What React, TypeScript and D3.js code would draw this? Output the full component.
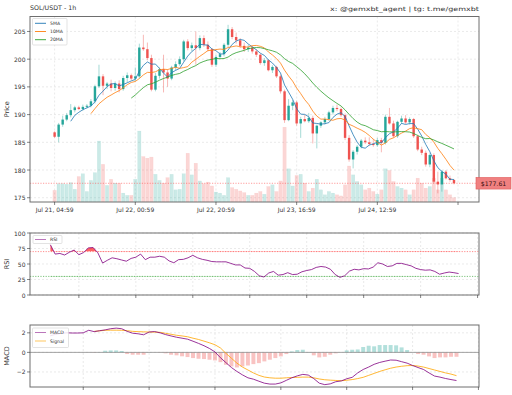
import React from "react";
import * as d3 from "d3";

const W = 512;
const H = 395;
const FONT = "DejaVu Sans";

// ---------- main price panel data ----------
const xTickIdx = [0, 20, 40, 60, 80, 100];
const xTickLabels = ["Jul 21, 04:59", "Jul 22, 00:59", "Jul 22, 20:59", "Jul 23, 16:59", "Jul 24, 12:59", ""];
const priceTicks = [175, 180, 185, 190, 195, 200, 205];
const lastPrice = 177.61;

const opens = [186.8, 186.0, 188.2, 189.1, 189.9, 190.8, 191.3, 191.0, 191.4, 191.6,
  192.4, 195.1, 196.9, 195.2, 195.6, 194.8, 195.6, 194.6, 196.6, 197.1,
  196.5, 196.9, 202.1, 201.8, 200.2, 194.5, 197.0, 198.2, 197.6, 196.5,
  198.5, 199.1, 200.0, 203.2, 202.0, 202.5, 202.0, 203.8, 202.6, 201.8,
  199.0, 200.4, 200.9, 202.6, 205.4, 204.0, 203.4, 202.4, 201.8, 202.1,
  201.4, 200.8, 199.3, 199.8, 198.0, 198.6, 196.9, 194.2, 189.0, 191.6,
  192.2, 188.4, 189.2, 188.8, 189.4, 186.6, 188.0, 188.6, 189.2, 190.4,
  191.2, 191.0, 189.9, 185.8, 181.9, 183.3, 184.2, 185.3, 185.0, 184.7,
  184.5, 185.4, 184.9, 189.6, 188.4, 186.1, 188.7, 189.3, 188.6, 189.2,
  186.1, 183.7, 183.1, 181.0, 182.7, 177.9, 177.4, 179.7, 178.5, 178.2];
const highs = [187.0, 188.5, 189.8, 190.3, 191.9, 191.6, 191.6, 191.8, 191.9, 192.8,
  195.4, 199.0, 197.3, 195.9, 196.3, 196.0, 196.2, 197.0, 197.6, 197.4,
  198.5, 202.8, 204.4, 203.0, 200.8, 197.5, 198.5, 200.8, 198.2, 198.8,
  199.6, 200.5, 203.5, 203.6, 203.0, 205.0, 204.3, 204.3, 203.2, 202.0,
  200.8, 201.3, 202.9, 206.2, 205.8, 204.8, 203.8, 203.0, 202.6, 202.4,
  201.8, 201.0, 200.2, 200.0, 198.9, 198.8, 197.2, 194.5, 192.8, 192.6,
  192.5, 189.6, 190.0, 190.3, 189.8, 188.2, 188.8, 189.6, 190.7, 191.6,
  191.8, 191.3, 190.2, 186.3, 183.6, 184.5, 185.6, 185.9, 185.9, 185.6,
  185.8, 185.8, 190.0, 191.2, 188.9, 188.9, 189.8, 189.9, 189.5, 189.4,
  186.4, 184.2, 183.5, 183.0, 183.0, 179.7, 180.0, 180.0, 179.0, 178.4];
const lows = [185.8, 185.0, 187.8, 188.8, 189.5, 190.4, 190.8, 190.7, 191.1, 191.3,
  192.0, 194.8, 193.5, 194.6, 194.2, 194.3, 194.0, 194.3, 195.8, 196.2,
  196.0, 196.5, 201.5, 199.8, 194.2, 194.2, 196.5, 194.0, 195.0, 196.2,
  198.0, 198.8, 199.6, 201.6, 201.4, 199.0, 201.6, 202.2, 201.4, 198.6,
  198.6, 200.0, 200.5, 202.2, 203.6, 202.8, 202.0, 201.3, 201.3, 201.0,
  200.4, 199.0, 198.8, 197.8, 197.5, 196.6, 193.8, 188.5, 188.8, 190.8,
  188.0, 185.8, 188.6, 188.5, 184.8, 183.9, 187.6, 188.2, 188.9, 190.0,
  190.6, 189.6, 185.4, 181.5, 180.3, 182.8, 183.9, 184.7, 184.4, 184.2,
  184.2, 183.2, 184.6, 188.2, 185.8, 185.8, 188.3, 188.3, 188.2, 185.8,
  183.4, 182.7, 180.6, 180.5, 177.6, 175.8, 176.1, 178.3, 177.9, 177.4];
const closes = [186.0, 188.2, 189.1, 189.9, 190.8, 191.3, 191.0, 191.4, 191.6, 192.4,
  195.1, 196.9, 195.2, 195.6, 194.8, 195.6, 194.6, 196.6, 197.1, 196.5,
  196.9, 202.1, 201.8, 200.2, 194.5, 197.0, 198.2, 197.6, 196.5, 198.5,
  199.1, 200.0, 203.2, 202.0, 202.5, 202.0, 203.8, 202.6, 201.8, 199.0,
  200.4, 200.9, 202.6, 205.4, 204.0, 203.4, 202.4, 201.8, 202.1, 201.4,
  200.8, 199.3, 199.8, 198.0, 198.6, 196.9, 194.2, 189.0, 191.6, 192.2,
  188.4, 189.2, 188.8, 189.4, 186.6, 188.0, 188.6, 189.2, 190.4, 191.2,
  191.0, 189.9, 185.8, 181.9, 183.3, 184.2, 185.3, 185.0, 184.7, 184.5,
  185.4, 184.9, 189.6, 188.4, 186.1, 188.7, 189.3, 188.6, 189.2, 186.1,
  183.7, 183.1, 181.0, 182.7, 177.9, 177.4, 179.7, 178.5, 178.2, 177.61];
const volumes = [21, 33, 33, 32, 35, 23, 46, 51, 19, 39,
  53, 110, 68, 30, 41, 34, 34, 16, 12, 12,
  41, 128, 82, 79, 81, 50, 39, 34, 44, 50,
  22, 23, 51, 88, 49, 70, 38, 33, 36, 29,
  18, 16, 12, 44, 26, 23, 20, 17, 12, 12,
  16, 19, 14, 28, 31, 19, 38, 135, 60, 29,
  48, 50, 34, 19, 25, 41, 22, 13, 19, 16,
  13, 11, 31, 65, 49, 37, 31, 22, 25, 19,
  14, 22, 60, 57, 37, 28, 25, 22, 13, 22,
  43, 34, 25, 28, 43, 22, 43, 22, 13, 8];

const maNames = ["5MA", "10MA", "20MA"];
const maPeriods = [5, 10, 20];
const maColors = ["#1f77b4", "#ff7f0e", "#2ca02c"];

// ---------- RSI panel ----------
const rsiStart = 13;
const rsiValues = [81, 66, 67, 64.5, 69, 72.5, 65, 68.5, 76, 76.5,
  68, 51.5, 56, 60, 58.5, 56.5, 54.5, 59, 61, 66,
  57, 61, 61, 62.5, 61, 55, 52, 57, 57.5, 60,
  64, 60, 57.5, 56, 54, 53.5, 53.5, 53.5, 51, 48.5,
  48.5, 43.5, 43, 38, 31, 29, 35.5, 38, 32, 33,
  36, 33, 33.5, 37.5, 39.5, 41, 44.5, 46, 45, 41.5,
  33, 28.5, 31, 38.5, 41.5, 40.5, 42.5, 42, 45, 52,
  50, 46, 47, 51, 51, 49, 47, 43, 41, 40,
  40.5, 38, 33.5, 35.5, 37, 36, 34.6];
const rsiTicks = [0, 25, 50, 75, 100];
const rsiTickIdx = [19, 31, 43, 55, 67, 79, 91, 103];

// ---------- MACD panel ----------
const macdStart = 25;
const macdValues = [1.7, 1.85, 1.95, 2.0, 1.98, 1.98, 2.0, 2.26, 2.12, 2.22,
  2.3, 2.42, 2.48, 2.42, 2.15, 1.96, 1.9, 1.8, 2.08, 2.13,
  2.0, 1.82, 1.68, 1.55, 1.45, 1.35, 1.14, 0.92, 0.68, 0.4,
  0.05, -0.55, -1.05, -1.55, -1.95, -2.3, -2.6, -2.74, -2.95, -3.15,
  -3.24, -3.24, -3.12, -2.86, -2.6, -2.4, -2.25, -2.32, -2.68, -3.15,
  -3.3, -3.22, -3.0, -2.92, -2.7, -2.55, -2.1, -1.75, -1.5, -1.22,
  -1.03, -0.9, -0.78, -0.8, -0.95, -1.1, -1.34, -1.55, -1.75, -2.1,
  -2.42, -2.53, -2.67, -2.78, -2.88];
const signalStart = 33;
const signalValues = [2.15, 2.2, 2.26, 2.27, 2.27, 2.26, 2.22, 2.15, 2.12, 2.1,
  2.08, 2.07, 2.05, 1.95, 1.85, 1.75, 1.68, 1.6, 1.45, 1.32,
  1.15, 0.98, 0.78, 0.45, -0.1, -0.6, -1.1, -1.5, -1.8, -2.1,
  -2.35, -2.52, -2.6, -2.64, -2.64, -2.6, -2.57, -2.55, -2.53, -2.53,
  -2.6, -2.72, -2.8, -2.84, -2.87, -2.9, -2.85, -2.78, -2.68, -2.55,
  -2.35, -2.15, -1.95, -1.78, -1.62, -1.5, -1.42, -1.36, -1.34, -1.4,
  -1.5, -1.65, -1.8, -1.95, -2.1, -2.22, -2.38];
const histValues = [0, 0, 0, 0, 0, 0, 0, 0, -0.03, 0.02,
  0.17, 0.2, 0.2, 0.14, -0.17, -0.24, -0.24, -0.24, 0.02, 0.0,
  -0.02, -0.1, -0.24, -0.3, -0.4, -0.48, -0.58, -0.65, -0.68, -0.75,
  -0.82, -1.0, -1.27, -1.44, -1.54, -1.44, -1.34, -1.2, -1.1, -0.92,
  -0.75, -0.58, -0.41, -0.17, 0.1, 0.24, 0.27, 0.03, -0.3, -0.51,
  -0.45, -0.24, -0.1, 0, 0.2, 0.27, 0.3, 0.55, 0.68, 0.62,
  0.75, 0.75, 0.75, 0.72, 0.51, 0.24, 0, -0.17, -0.24, -0.41,
  -0.58, -0.51, -0.51, -0.45, -0.45];
const macdTicks = [-2, 0, 2];
const macdTickIdx = [31, 43, 55, 67, 79, 91, 103];

const UP = "#26a69a";
const DOWN = "#ef5350";
const GRID = "#dcdcdc";
const FRAME = "#6e6e6e";
const TXT = "#333";

function sma(vals: number[], n: number): (number | null)[] {
  return vals.map((_, i) => (i < n - 1 ? null : (d3.mean(vals.slice(i - n + 1, i + 1)) as number)));
}

const L = 30;
const R = 479;

function Frame({ top, bottom }: { top: number; bottom: number }) {
  return <rect x={L} y={top} width={R - L} height={bottom - top} fill="none" stroke={FRAME} strokeWidth={1} />;
}

export default function App() {
  // main panel
  const mTop = 16.5, mBot = 202;
  const x = d3.scaleLinear().domain([-6.1, 105.2]).range([L, R]);
  const y = d3.scaleLinear().domain([174.23, 207.7]).range([mBot, mTop]);
  const yv = d3.scaleLinear().domain([0, 334.7]).range([mBot, mTop]);
  const step = x(1) - x(0);
  const idx = d3.range(closes.length);

  const mas = maPeriods.map((p) => sma(closes, p));
  const maLine = d3
    .line<number | null>()
    .defined((d) => d !== null)
    .x((_, i) => x(i))
    .y((d) => y(d as number));

  // RSI panel
  const rTop = 233, rBot = 295;
  const xr = d3.scaleLinear().domain([8.7, 103.3]).range([L, R]);
  const yr = d3.scaleLinear().domain([0, 100]).range([rBot, rTop]);
  const rsiLine = d3
    .line<number>()
    .x((_, i) => xr(rsiStart + i))
    .y((d) => yr(d));
  const rsiArea = d3
    .area<number>()
    .x((_, i) => xr(rsiStart + i))
    .y0(yr(70))
    .y1((d) => yr(d));
  const rsiArea30 = d3
    .area<number>()
    .x((_, i) => xr(rsiStart + i))
    .y0(yr(30))
    .y1((d) => yr(d));

  // MACD panel
  const cTop = 325, cBot = 387;
  const xm = d3.scaleLinear().domain([21.3, 103.1]).range([L, R]);
  const ym = d3.scaleLinear().domain([-3.54, 2.8]).range([cBot, cTop]);
  const mStep = xm(1) - xm(0);
  const macdPath = d3
    .line<number>()
    .x((_, i) => xm(macdStart + i))
    .y((d) => ym(d));
  const sigPath = d3
    .line<number>()
    .x((_, i) => xm(signalStart + i))
    .y((d) => ym(d));

  return (
    <svg width={W} height={H} style={{ display: "block", position: "absolute", left: 0, top: 0, background: "#fff" }} fontFamily={FONT}>
      <defs>
        <clipPath id="mainClip"><rect x={L} y={mTop} width={R - L} height={mBot - mTop} /></clipPath>
        <clipPath id="above70"><rect x={L} y={rTop} width={R - L} height={yr(70) - rTop} /></clipPath>
        <clipPath id="below30"><rect x={L} y={yr(30)} width={R - L} height={rBot - yr(30)} /></clipPath>
      </defs>
      <rect x={0} y={0} width={W} height={H} fill="#fff" />

      {/* header */}
      <text x={30} y={10} fontSize={6.3} fill={TXT}>SOL/USDT - 1h</text>
      <text x={479} y={10.5} fontSize={5.9} fill={TXT} textAnchor="end" textLength={149} lengthAdjust="spacingAndGlyphs">x: @gemxbt_agent | tg: t.me/gemxbt</text>

      {/* ===== main panel ===== */}
      <g>
        {priceTicks.map((t) => (
          <line key={"gy" + t} x1={L} x2={R} y1={y(t)} y2={y(t)} stroke={GRID} strokeWidth={0.6} strokeDasharray="2,2" />
        ))}
        {xTickIdx.map((t) => (
          <line key={"gx" + t} x1={x(t)} x2={x(t)} y1={mTop} y2={mBot} stroke={GRID} strokeWidth={0.6} strokeDasharray="2,2" />
        ))}
        <g clipPath="url(#mainClip)">
          {/* volume */}
          {idx.map((i) => {
            const up = closes[i] >= opens[i];
            return (
              <rect key={"v" + i} x={x(i) - step * 0.42} width={step * 0.84} y={yv(volumes[i])} height={yv(0) - yv(volumes[i])}
                fill={up ? UP : DOWN} fillOpacity={0.24} stroke={up ? UP : DOWN} strokeOpacity={0.12} strokeWidth={0.4} />
            );
          })}
          {/* last price line */}
          <line x1={L} x2={R} y1={y(lastPrice)} y2={y(lastPrice)} stroke="#ff4d4d" strokeOpacity={0.8} strokeWidth={0.7} strokeDasharray="1.2,1.4" />
          {/* candles */}
          {idx.map((i) => {
            const up = closes[i] >= opens[i];
            const c = up ? UP : DOWN;
            const top = y(Math.max(opens[i], closes[i]));
            const bot = y(Math.min(opens[i], closes[i]));
            return (
              <g key={"c" + i}>
                <line x1={x(i)} x2={x(i)} y1={y(highs[i])} y2={y(lows[i])} stroke={c} strokeWidth={0.7} strokeOpacity={0.6} />
                <rect x={x(i) - step * 0.3} width={step * 0.6} y={top} height={Math.max(bot - top, 0.6)} fill={c} />
              </g>
            );
          })}
          {/* moving averages */}
          {mas.map((m, k) => (
            <path key={"ma" + k} d={maLine(m) || ""} fill="none" stroke={maColors[k]} strokeWidth={0.8} />
          ))}
        </g>
        <Frame top={mTop} bottom={mBot} />
        {priceTicks.map((t) => (
          <g key={"ty" + t}>
            <line x1={L - 3} x2={L} y1={y(t)} y2={y(t)} stroke={TXT} strokeWidth={0.6} />
            <text x={L - 4.5} y={y(t)} fontSize={6} fill={TXT} textAnchor="end" dominantBaseline="central">{t}</text>
          </g>
        ))}
        {xTickIdx.map((t, k) => (
          <g key={"tx" + t}>
            <line x1={x(t)} x2={x(t)} y1={mBot} y2={mBot + 3} stroke={TXT} strokeWidth={0.6} />
            <text x={x(t)} y={mBot + 10} fontSize={6} fill={TXT} textAnchor="middle">{xTickLabels[k]}</text>
          </g>
        ))}
        <text transform={`translate(9,${(mTop + mBot) / 2}) rotate(-90)`} fontSize={6.5} fill={TXT} textAnchor="middle">Price</text>
        {/* legend */}
        <rect x={32.5} y={18.5} width={34.5} height={26.5} fill="#fff" fillOpacity={0.85} stroke="#d0d0d0" strokeWidth={0.6} rx={1} />
        {maNames.map((n, k) => (
          <g key={"lg" + n}>
            <line x1={35} x2={46} y1={23.3 + k * 8.2} y2={23.3 + k * 8.2} stroke={maColors[k]} strokeWidth={0.9} />
            <text x={50} y={23.3 + k * 8.2} fontSize={4.6} fill={TXT} dominantBaseline="central">{n}</text>
          </g>
        ))}
        {/* price tag */}
        <rect x={476} y={y(lastPrice) - 5.8} width={35} height={11.6} fill="#f08080" stroke="#e05a5a" strokeWidth={0.6} />
        <text x={493.5} y={y(lastPrice)} fontSize={6.2} fill="#3a1010" textAnchor="middle" dominantBaseline="central">${lastPrice.toFixed(2)}</text>
      </g>

      {/* ===== RSI panel ===== */}
      <g>
        {rsiTicks.map((t) => (
          <line key={"rg" + t} x1={L} x2={R} y1={yr(t)} y2={yr(t)} stroke={GRID} strokeWidth={0.6} strokeDasharray="2,2" />
        ))}
        {rsiTickIdx.map((t) => (
          <line key={"rgx" + t} x1={xr(t)} x2={xr(t)} y1={rTop} y2={rBot} stroke={GRID} strokeWidth={0.6} strokeDasharray="2,2" />
        ))}
        <line x1={L} x2={R} y1={yr(70)} y2={yr(70)} stroke="#ff3030" strokeOpacity={0.8} strokeWidth={0.7} strokeDasharray="1.2,1.4" />
        <line x1={L} x2={R} y1={yr(30)} y2={yr(30)} stroke="#2ca02c" strokeOpacity={0.9} strokeWidth={0.7} strokeDasharray="1.2,1.4" />
        <path d={rsiArea(rsiValues) || ""} fill="#ff2020" fillOpacity={0.7} clipPath="url(#above70)" />
        <path d={rsiArea30(rsiValues) || ""} fill="#2ca02c" fillOpacity={0.7} clipPath="url(#below30)" />
        <path d={rsiLine(rsiValues) || ""} fill="none" stroke="#800080" strokeWidth={0.8} />
        <Frame top={rTop} bottom={rBot} />
        {rsiTicks.map((t) => (
          <g key={"rt" + t}>
            <line x1={L - 3} x2={L} y1={yr(t)} y2={yr(t)} stroke={TXT} strokeWidth={0.6} />
            <text x={L - 4.5} y={yr(t)} fontSize={6} fill={TXT} textAnchor="end" dominantBaseline="central">{t}</text>
          </g>
        ))}
        {rsiTickIdx.map((t) => (
          <line key={"rtx" + t} x1={xr(t)} x2={xr(t)} y1={rBot} y2={rBot + 3} stroke={TXT} strokeWidth={0.6} />
        ))}
        <text transform={`translate(9,${(rTop + rBot) / 2}) rotate(-90)`} fontSize={6.5} fill={TXT} textAnchor="middle">RSI</text>
        <rect x={33} y={235.5} width={29} height={8} fill="#fff" fillOpacity={0.85} stroke="#d0d0d0" strokeWidth={0.6} rx={1} />
        <line x1={35} x2={46} y1={239.5} y2={239.5} stroke="#800080" strokeOpacity={0.6} strokeWidth={0.9} />
        <text x={50} y={239.5} fontSize={4.6} fill={TXT} dominantBaseline="central">RSI</text>
      </g>

      {/* ===== MACD panel ===== */}
      <g>
        {macdTicks.map((t) => (
          <line key={"mg" + t} x1={L} x2={R} y1={ym(t)} y2={ym(t)} stroke={GRID} strokeWidth={0.6} strokeDasharray="2,2" />
        ))}
        {macdTickIdx.map((t) => (
          <line key={"mgx" + t} x1={xm(t)} x2={xm(t)} y1={cTop} y2={cBot} stroke={GRID} strokeWidth={0.6} strokeDasharray="2,2" />
        ))}
        {histValues.map((h, i) => (
          <rect key={"h" + i} x={xm(macdStart + i) - mStep * 0.36} width={mStep * 0.72}
            y={Math.min(ym(h), ym(0))} height={Math.abs(ym(h) - ym(0))}
            fill={h >= 0 ? UP : DOWN} fillOpacity={0.35} />
        ))}
        <line x1={L} x2={R} y1={ym(0)} y2={ym(0)} stroke="#8c8c8c" strokeWidth={0.8} />
        <path d={sigPath(signalValues) || ""} fill="none" stroke="#ffa500" strokeWidth={0.8} />
        <path d={macdPath(macdValues) || ""} fill="none" stroke="#800080" strokeWidth={0.8} />
        <Frame top={cTop} bottom={cBot} />
        {macdTicks.map((t) => (
          <g key={"mt" + t}>
            <line x1={L - 3} x2={L} y1={ym(t)} y2={ym(t)} stroke={TXT} strokeWidth={0.6} />
            <text x={L - 4.5} y={ym(t)} fontSize={6} fill={TXT} textAnchor="end" dominantBaseline="central">{t < 0 ? "\u2212" + Math.abs(t) : t}</text>
          </g>
        ))}
        {macdTickIdx.map((t) => (
          <line key={"mtx" + t} x1={xm(t)} x2={xm(t)} y1={cBot} y2={cBot + 3} stroke={TXT} strokeWidth={0.6} />
        ))}
        <text transform={`translate(9,${(cTop + cBot) / 2}) rotate(-90)`} fontSize={6.5} fill={TXT} textAnchor="middle">MACD</text>
        <rect x={32.5} y={328} width={36} height={19.5} fill="#fff" fillOpacity={0.85} stroke="#d0d0d0" strokeWidth={0.6} rx={1} />
        <line x1={35} x2={46} y1={332.5} y2={332.5} stroke="#800080" strokeOpacity={0.6} strokeWidth={0.9} />
        <text x={50} y={332.5} fontSize={4.6} fill={TXT} dominantBaseline="central">MACD</text>
        <line x1={35} x2={46} y1={341} y2={341} stroke="#ffa500" strokeOpacity={0.7} strokeWidth={0.9} />
        <text x={50} y={341} fontSize={4.6} fill={TXT} dominantBaseline="central">Signal</text>
      </g>
    </svg>
  );
}
